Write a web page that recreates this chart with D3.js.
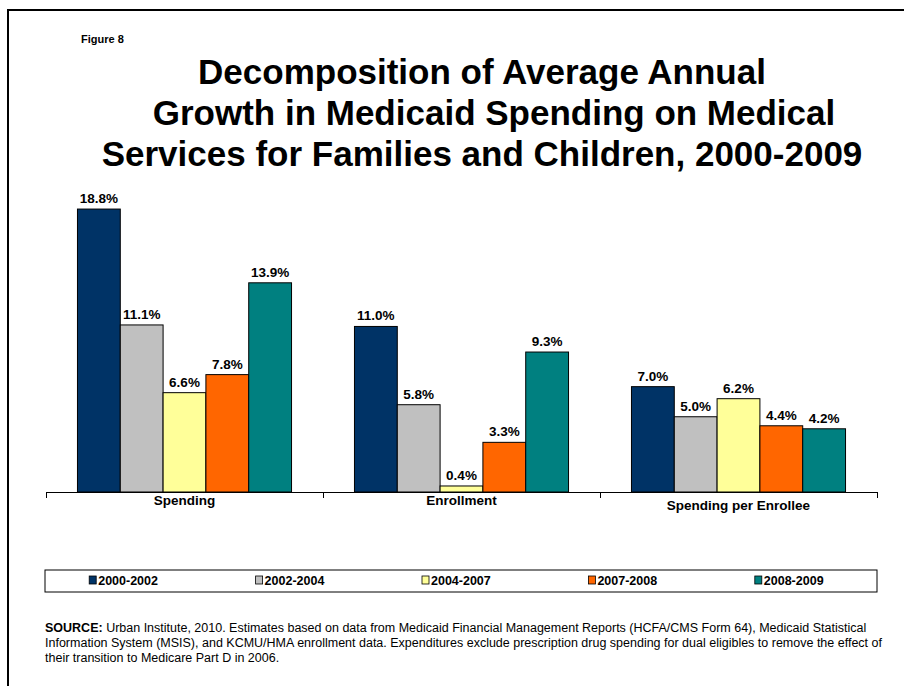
<!DOCTYPE html>
<html>
<head>
<meta charset="utf-8">
<script src="https://cdn.jsdelivr.net/npm/d3@7"></script>
<style>
  body { margin: 0; background: #fff; overflow: hidden; }
  text { font-family: "Liberation Sans", Arial, sans-serif; }
</style>
</head>
<body>
<div id="chart"></div>
<script>
// data
const categories = ["Spending", "Enrollment", "Spending per Enrollee"];
const periods = ["2000-2002", "2002-2004", "2004-2007", "2007-2008", "2008-2009"];
const values = {
  "2000-2002": [18.8, 11.0, 7.0],
  "2002-2004": [11.1, 5.8, 5.0],
  "2004-2007": [6.6, 0.4, 6.2],
  "2007-2008": [7.8, 3.3, 4.4],
  "2008-2009": [13.9, 9.3, 4.2]
};
const colors = ["#003366", "#C0C0C0", "#FFFF99", "#FF6600", "#008080"];
const titleLines = [
  "Decomposition of Average Annual",
  "Growth in Medicaid Spending on Medical",
  "Services for Families and Children, 2000-2009"
];
const sourceLines = [
  "Urban Institute, 2010. Estimates based on data from Medicaid Financial Management Reports (HCFA/CMS Form 64), Medicaid Statistical",
  "Information System (MSIS), and KCMU/HMA enrollment data. Expenditures exclude prescription drug spending for dual eligibles to remove the effect of",
  "their transition to Medicare Part D in 2006."
];

const W = 904, H = 686;
const svg = d3.select("#chart").append("svg")
  .attr("width", W).attr("height", H);

// slide frame
svg.append("rect")
  .attr("x", 8).attr("y", 10)
  .attr("width", 1000).attr("height", 1000)
  .attr("fill", "none").attr("stroke", "#000").attr("stroke-width", 2);

svg.append("text")
  .text("Figure 8")
  .attr("x", 81).attr("y", 43)
  .attr("font-size", 11).attr("font-weight", "bold");

svg.selectAll(".title").data(titleLines).enter()
  .append("text")
  .attr("class", "title")
  .text(d => d)
  .attr("x", (d, i) => i == 1 ? 494 : 482)
  .attr("y", (d, i) => 84 + i * 41)
  .attr("text-anchor", "middle")
  .attr("font-size", 35)
  .attr("font-weight", "bold");

// scales
const x0 = d3.scaleBand().domain(categories).range([46, 877]);
const x1 = d3.scaleBand().domain(periods).range([0, x0.bandwidth()])
  .paddingInner(0).paddingOuter(0.735);
const y = d3.scaleLinear().domain([0, 20]).range([492, 191]);
const color = d3.scaleOrdinal().domain(periods).range(colors);

const rows = [];
periods.forEach(p => values[p].forEach((v, i) => rows.push({ period: p, cat: categories[i], v: v })));

const bars = svg.append("g");
bars.selectAll("rect").data(rows).enter()
  .append("rect")
  .attr("x", d => x0(d.cat) + x1(d.period))
  .attr("y", d => y(d.v))
  .attr("width", x1.bandwidth())
  .attr("height", d => y(0) - y(d.v))
  .attr("fill", d => color(d.period))
  .attr("stroke", "#000")
  .attr("stroke-width", 1);

bars.selectAll("text").data(rows).enter()
  .append("text")
  .text(d => d.v.toFixed(1) + "%")
  .attr("x", d => x0(d.cat) + x1(d.period) + x1.bandwidth() / 2)
  .attr("y", d => y(d.v) - 6)
  .attr("text-anchor", "middle")
  .attr("font-size", 13.5)
  .attr("font-weight", "bold");

// axis with ticks at the category boundaries
const xt = d3.scaleLinear().domain([0, categories.length]).range(x0.range());
const axis = svg.append("g")
  .attr("transform", "translate(0," + y(0) + ")")
  .call(d3.axisBottom(xt).ticks(categories.length).tickFormat("").tickSize(6).tickSizeOuter(6));
axis.select(".domain").attr("stroke", "#000");
axis.selectAll(".tick line").attr("stroke", "#000");

svg.selectAll(".cat").data(categories).enter()
  .append("text")
  .attr("class", "cat")
  .text(d => d)
  .attr("x", d => x0(d) + x0.bandwidth() / 2)
  .attr("y", (d, i) => i == 2 ? 510 : 505)
  .attr("text-anchor", "middle")
  .attr("font-size", 13.5)
  .attr("font-weight", "bold");

// legend
const legend = svg.append("g");
legend.append("rect")
  .attr("x", 45).attr("y", 570).attr("width", 832).attr("height", 22)
  .attr("fill", "#fff").attr("stroke", "#000").attr("stroke-width", 1);
const slot = 832 / periods.length;
const items = legend.selectAll(".item").data(periods).enter()
  .append("g")
  .attr("class", "item")
  .attr("transform", (d, i) => "translate(" + (45 + slot * i + slot / 2) + ",585)");
items.append("rect")
  .attr("x", -39).attr("y", -9).attr("width", 7).attr("height", 8)
  .attr("fill", d => color(d)).attr("stroke", "#000").attr("stroke-width", 0.8);
items.append("text")
  .text(d => d)
  .attr("x", -30)
  .attr("font-size", 12.5)
  .attr("font-weight", "bold");

// source note
const src = svg.append("g").attr("font-size", 12.5);
sourceLines.forEach((line, i) => {
  const t = src.append("text").attr("x", 45).attr("y", 632 + i * 15);
  if (i == 0) {
    t.append("tspan").attr("font-weight", "bold").text("SOURCE:");
    t.append("tspan").text(" " + line);
  } else {
    t.text(line);
  }
});
</script>
</body>
</html>
